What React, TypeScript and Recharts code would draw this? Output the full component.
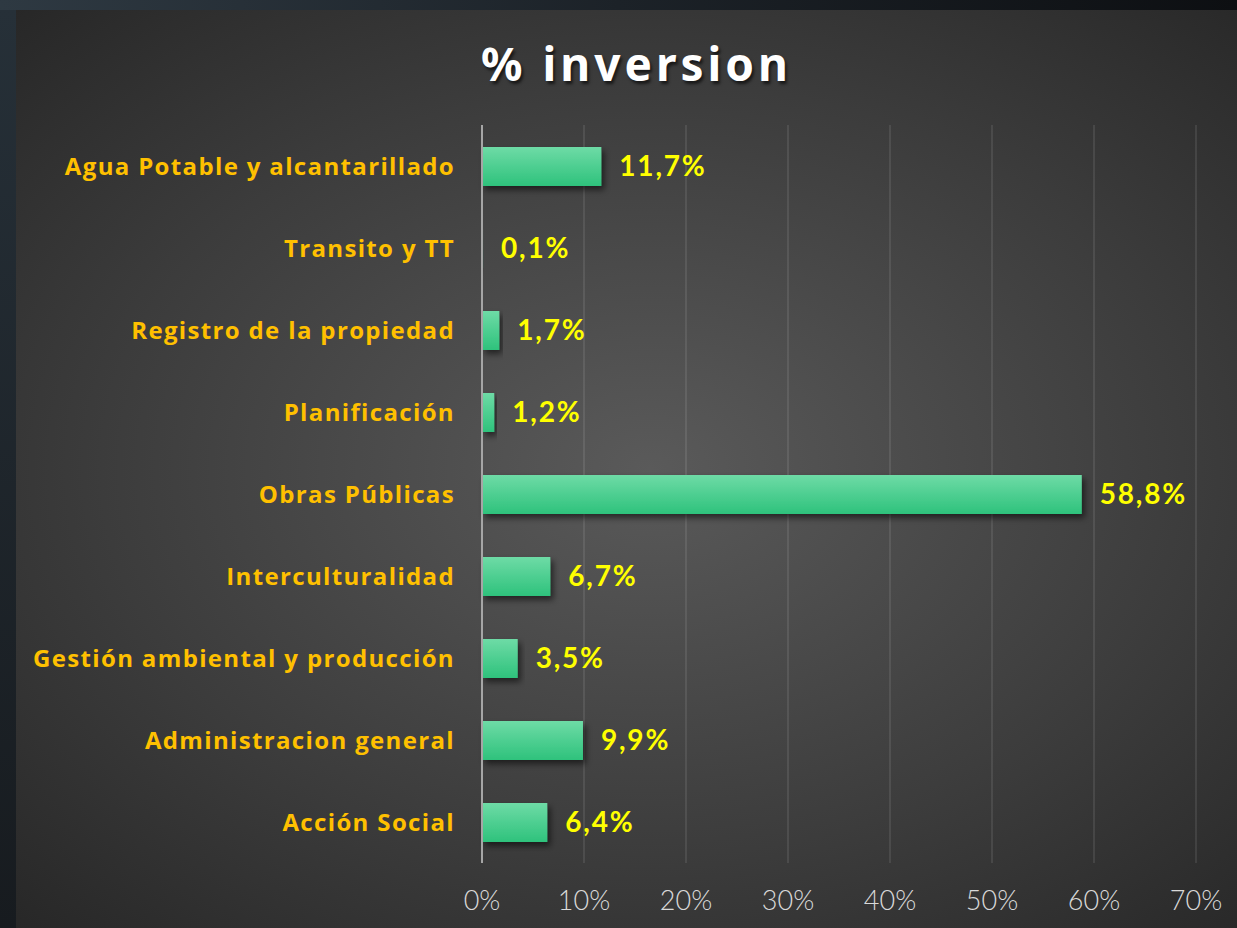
import { Bar, BarChart, CartesianGrid, LabelList, XAxis, YAxis } from "recharts";

const categories = [
  "Agua Potable y alcantarillado",
  "Transito y TT",
  "Registro de la propiedad",
  "Planificación",
  "Obras Públicas",
  "Interculturalidad",
  "Gestión ambiental y producción",
  "Administracion general",
  "Acción Social",
];
const inversion = [11.7, 0.1, 1.7, 1.2, 58.8, 6.7, 3.5, 9.9, 6.4];
const xTicks = [0, 10, 20, 30, 40, 50, 60, 70];

const data = categories.map((name, i) => ({ name, value: inversion[i] }));

const W = 1237;
const H = 928;

export default function App() {
  return (
    <div
      style={{
        position: "absolute",
        left: 0,
        top: 0,
        width: W,
        height: H,
        overflow: "hidden",
        background: "linear-gradient(90deg, #2e3942 0%, #1c2228 50%, #0d0f12 100%)",
      }}
    >
      <div
        style={{
          position: "absolute",
          left: 0,
          top: 10,
          width: 16,
          height: H - 10,
          background: "linear-gradient(180deg, #263038 0%, #171b1f 100%)",
        }}
      />
      <div
        style={{
          position: "absolute",
          left: 16,
          top: 10,
          width: W - 16,
          height: H - 10,
          background: "radial-gradient(ellipse 75% 70% at 52% 50%, #5a5a5a 0%, #3c3c3c 60%, #272727 100%)",
        }}
      />
      <div
        style={{
          position: "absolute",
          left: 0,
          top: 32,
          width: W + 36,
          textAlign: "center",
          color: "#ffffff",
          fontFamily: "'Noto Sans', sans-serif",
          fontWeight: 700,
          fontSize: 46,
          letterSpacing: 4,
          textShadow: "2px 3px 3px rgba(0,0,0,0.6)",
        }}
      >
        % inversion
      </div>
      <div style={{ position: "absolute", left: 0, top: 0 }}>
        <BarChart
          width={W}
          height={H}
          data={data}
          layout="vertical"
          margin={{ top: 125, right: 41, bottom: 0, left: 0 }}
        >
          <defs>
            <linearGradient id="barFill" x1="0" y1="0" x2="0" y2="1">
              <stop offset="0%" stopColor="#6edba6" />
              <stop offset="100%" stopColor="#2ec27c" />
            </linearGradient>
            <filter id="barShadow" x="-10%" y="-20%" width="130%" height="160%">
              <feDropShadow dx="3" dy="4" stdDeviation="3" floodColor="#000" floodOpacity="0.55" />
            </filter>
          </defs>
          <CartesianGrid horizontal={false} stroke="rgba(255,255,255,0.09)" strokeWidth={2} />
          <XAxis
            type="number"
            domain={[0, 70]}
            ticks={xTicks}
            tickFormatter={(v: number) => `${v}%`}
            axisLine={false}
            tickLine={false}
            tickSize={0}
            tickMargin={28}
            height={65}
            interval={0}
            tick={{ fill: "#d9d9d9", fontSize: 27, fontWeight: 300, fontFamily: "Lato, sans-serif" }}
          />
          <YAxis
            type="category"
            dataKey="name"
            width={482}
            axisLine={{ stroke: "#a6a6a6", strokeWidth: 2 }}
            tickLine={false}
            tickSize={0}
            tickMargin={27}
            interval={0}
            tick={{ fill: "#ffc000", fontSize: 24, fontWeight: 700, fontFamily: "'Open Sans', sans-serif", letterSpacing: 1.35 }}
          />
          <Bar
            dataKey="value"
            fill="url(#barFill)"
            barSize={39}
            filter="url(#barShadow)"
            isAnimationActive={false}
          >
            <LabelList
              dataKey="value"
              position="right"
              offset={18}
              formatter={(v: number) => `${v.toFixed(1).replace(".", ",")}%`}
              style={{ fill: "#ffff00", fontSize: 28, fontWeight: 700, fontFamily: "Lato, sans-serif", letterSpacing: 1.8 }}
            />
          </Bar>
        </BarChart>
      </div>
    </div>
  );
}
